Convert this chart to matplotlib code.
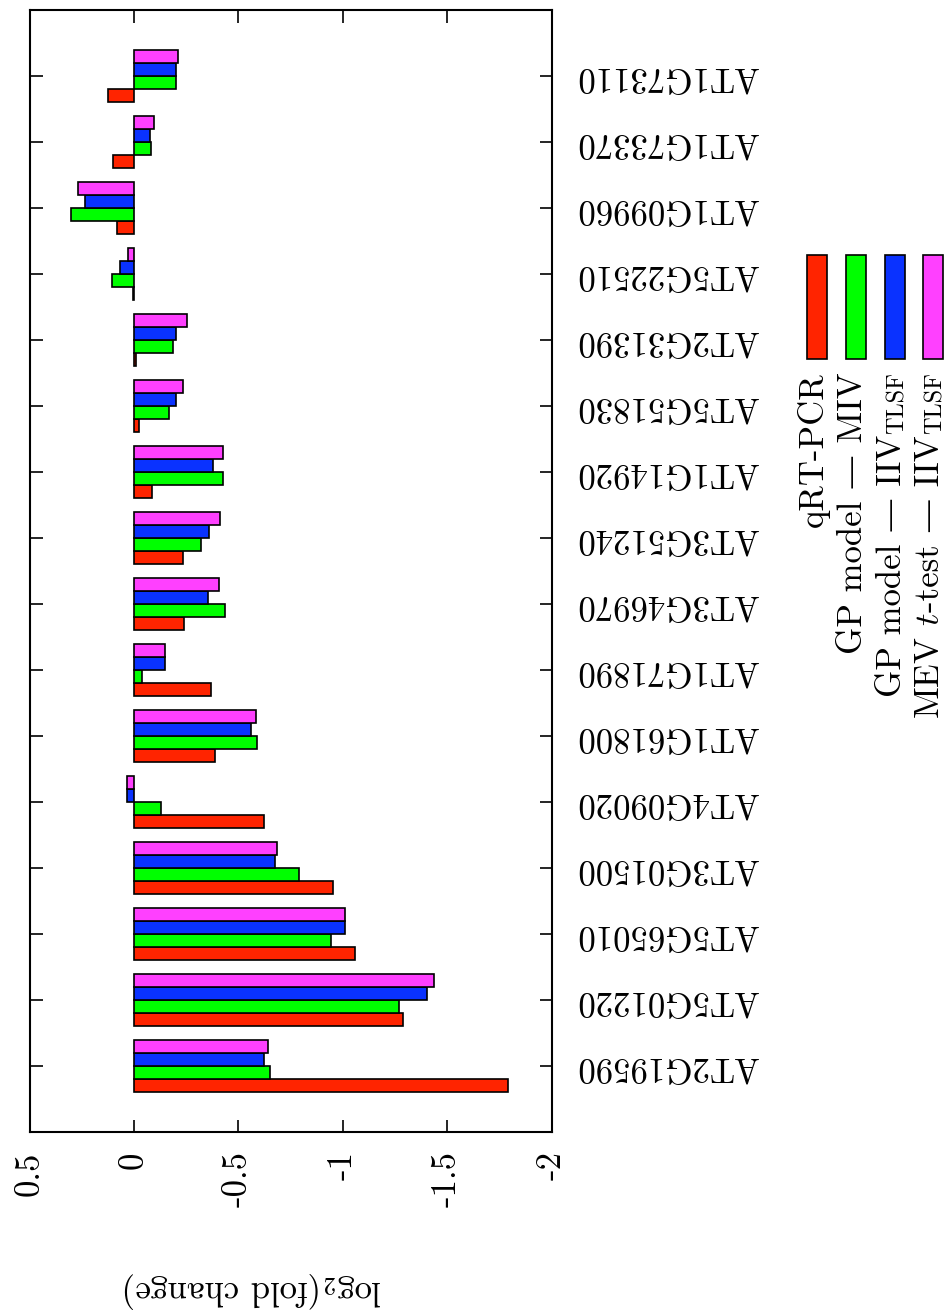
import matplotlib
matplotlib.use('Agg')
import matplotlib.pyplot as plt
from matplotlib.patches import Rectangle
import numpy as np

# ---------------- data ----------------
genes = ["AT2G19590", "AT5G01220", "AT5G65010", "AT3G01500", "AT4G09020",
         "AT1G61800", "AT1G71890", "AT3G46970", "AT3G51240", "AT1G14920",
         "AT5G51830", "AT2G31390", "AT5G22510", "AT1G09960", "AT1G73370",
         "AT1G73110"]

qrt_pcr = [-1.79, -1.29, -1.06, -0.955, -0.623, -0.39, -0.369, -0.241, -0.236,
           -0.089, -0.025, -0.008, 0.006, 0.079, 0.099, 0.126]
gp_miv = [-0.654, -1.271, -0.945, -0.792, -0.131, -0.588, -0.04, -0.436, -0.322,
          -0.425, -0.166, -0.188, 0.104, 0.302, -0.084, -0.203]
gp_iiv = [-0.621, -1.405, -1.012, -0.675, 0.031, -0.562, -0.15, -0.356, -0.361,
          -0.38, -0.201, -0.204, 0.066, 0.232, -0.075, -0.2]
mev_ttest = [-0.64, -1.436, -1.009, -0.683, 0.034, -0.584, -0.15, -0.407, -0.414,
             -0.425, -0.235, -0.255, 0.029, 0.27, -0.097, -0.209]

series_names = ["qRT-PCR",
                "GP model \u2014 MIV",
                "GP model \u2014 IIV_TLSF",
                "MEV t-test \u2014 IIV_TLSF"]
# legend text pieces in reading order: (text, is_subscript)
legend_pieces = [
    [("qRT-PCR", False)],
    [("GP model \u2014 MIV", False)],
    [("GP model \u2014 IIV", False), ("TLSF", True)],
    [("MEV $t$", False), ("-test \u2014 IIV", False), ("TLSF", True)],
]
colors = ["#ff2400", "#00ff00", "#0a32ff", "#ff40ff"]

xticks = [0.5, 0, -0.5, -1, -1.5, -2]
xticklabels = ["0.5", "0", "-0.5", "-1", "-1.5", "-2"]
xlabel = r"log$_2$(fold change)"

# ---------------- style ----------------
plt.rcParams['font.family'] = ['cmr10', 'DejaVu Serif']
plt.rcParams['mathtext.fontset'] = 'cm'
plt.rcParams['axes.unicode_minus'] = False
FS = 25

W, H = 948, 1314
fig = plt.figure(figsize=(W / 100, H / 100), dpi=100)
ax = fig.add_axes([29.5 / W, 1 - 1132 / H, 522 / W, 1122 / H])

pos = np.arange(len(genes))
all_series = [qrt_pcr, gp_miv, gp_iiv, mev_ttest]
offsets = [-0.3, -0.1, 0.1, 0.3]
for vals, off, col, lab in zip(all_series, offsets, colors, series_names):
    ax.barh(pos + off, vals, height=0.2, color=col, edgecolor='black',
            linewidth=1.2, label=lab, zorder=3)

ax.set_xlim(0.5, -2)
ax.set_ylim(-1, 16)
ax.set_xticks(xticks)
ax.set_xticklabels(xticklabels, rotation=90, fontsize=FS)
ax.set_yticks(pos)
ax.yaxis.tick_right()
ax.set_yticklabels(genes, rotation=180, va='center', fontsize=FS)
ax.tick_params(axis='both', direction='in', length=9, width=1.2,
               top=True, bottom=True, left=True, right=True,
               labelleft=False, labelright=True, labeltop=False, labelbottom=True)
ax.tick_params(axis='x', pad=14)
ax.tick_params(axis='y', pad=17)
for sp in ax.spines.values():
    sp.set_linewidth(1.5)

ax.set_xlabel(xlabel, rotation=180, fontsize=FS, va='center', ha='center')
ax.xaxis.set_label_coords((253 - 29.5) / 522, (1132 - 1290) / 1122)

# ---------------- legend (drawn rotated by hand) ----------------
renderer = fig.canvas.get_renderer()
sw_x = [807, 846, 885, 923]
y_top = 372
for x0, col, pieces in zip(sw_x, colors, legend_pieces):
    fig.add_artist(Rectangle((x0 / W, 1 - 359 / H), 20 / W, 104 / H,
                             transform=fig.transFigure, facecolor=col,
                             edgecolor='black', linewidth=1.2))
    xb = x0 + 16  # baseline position (px)
    y = y_top
    for txt, is_sub in reversed(pieces):
        fs = FS * 0.7 if is_sub else FS
        xx = xb + (3 if is_sub else 0)
        t = fig.text(xx / W, 1 - y / H, txt, rotation=90, rotation_mode='anchor',
                     ha='right', va='baseline', fontsize=fs)
        bb = t.get_window_extent(renderer=renderer)
        y += bb.height + 1

fig.savefig('out.png', dpi=100)
